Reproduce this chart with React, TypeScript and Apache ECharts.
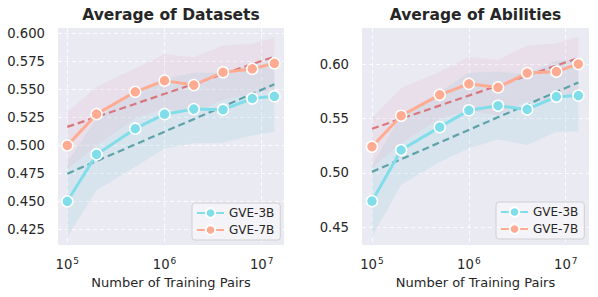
import React, { useEffect, useRef } from "react";
import * as echarts from "echarts";

const trainingPairs = [1e5, 2e5, 5e5, 1e6, 2e6, 4e6, 8e6, 1.35e7];
const trendPairs = [1e5, 1.35e7];

// Average of Datasets
const dsGVE3B = [0.45, 0.492, 0.515, 0.528, 0.5325, 0.532, 0.542, 0.544];
const dsGVE7B = [0.5, 0.528, 0.548, 0.558, 0.554, 0.5655, 0.5685, 0.5735];
const dsGVE3BLow = [0.418, 0.46, 0.481, 0.497, 0.502, 0.5025, 0.509, 0.512];
const dsGVE3BHigh = [0.485, 0.524, 0.549, 0.56, 0.565, 0.565, 0.572, 0.575];
const dsGVE7BLow = [0.479, 0.5, 0.524, 0.533, 0.529, 0.541, 0.546, 0.55];
const dsGVE7BHigh = [0.53, 0.5525, 0.569, 0.5815, 0.579, 0.5895, 0.591, 0.5965];
const dsTrend3B = [0.4747, 0.5547];
const dsTrend7B = [0.5166, 0.5795];

// Average of Abilities
const abGVE3B = [0.474, 0.521, 0.542, 0.5575, 0.5617, 0.5583, 0.57, 0.571];
const abGVE7B = [0.524, 0.5525, 0.5717, 0.5818, 0.5785, 0.5917, 0.593, 0.6];
const abGVE3BLow = [0.441, 0.489, 0.51, 0.5225, 0.5307, 0.5255, 0.5377, 0.538];
const abGVE3BHigh = [0.507, 0.553, 0.574, 0.592, 0.593, 0.591, 0.603, 0.604];
const abGVE7BLow = [0.505, 0.527, 0.55, 0.557, 0.553, 0.566, 0.566, 0.575];
const abGVE7BHigh = [0.5505, 0.578, 0.593, 0.6065, 0.604, 0.617, 0.619, 0.625];
const abTrend3B = [0.5009, 0.5831];
const abTrend7B = [0.5405, 0.6055];

const xTickExponents = [5, 6, 7];
const dsYTicks = [0.425, 0.45, 0.475, 0.5, 0.525, 0.55, 0.575, 0.6];
const abYTicks = [0.45, 0.5, 0.55, 0.6];

const titles = ["Average of Datasets", "Average of Abilities"];
const xName = "Number of Training Pairs";
const seriesNames = ["GVE-3B", "GVE-7B"];

const FONT = "DejaVu Sans";
const C3 = "#80DEEA";
const C7 = "#FFAB91";
const T3 = "#5DA3A9";
const T7 = "#D9777D";
const B3 = "#A8D4E4";
const B7 = "#E6A9C0";

const lx = trainingPairs.map((v) => Math.log10(v));
const ltx = trendPairs.map((v) => Math.log10(v));
const zip = (xs: number[], ys: number[]) => xs.map((x, i) => [x, ys[i]]);

function buildSeries(
  gi: number,
  m3: number[],
  m7: number[],
  lo3: number[],
  hi3: number[],
  lo7: number[],
  hi7: number[],
  t3: number[],
  t7: number[]
) {
  const base = { xAxisIndex: gi, yAxisIndex: gi, silent: true };
  const band = (name: string, lo: number[], hi: number[], color: string, op: number, z: number) => ({
    ...base,
    type: "custom",
    name,
    data: lx.map((x, i) => [x, lo[i], hi[i]]),
    encode: { x: 0, y: [1, 2] },
    z,
    renderItem: (params: any, api: any) => {
      if (params.dataIndex !== 0) return null;
      const top = lx.map((x, i) => api.coord([x, hi[i]]));
      const bottom = lx.map((x, i) => api.coord([x, lo[i]])).reverse();
      return {
        type: "polygon",
        shape: { points: [...top, ...bottom] },
        style: { fill: color, opacity: op },
      };
    },
  });
  const trend = (name: string, ys: number[], color: string) => ({
    ...base,
    type: "line",
    name,
    data: zip(ltx, ys),
    symbol: "none",
    lineStyle: { color, width: 2.2, type: [7, 4] },
    z: 3,
  });
  const main = (name: string, ys: number[], color: string) => ({
    ...base,
    type: "line",
    name,
    data: zip(lx, ys),
    symbol: "circle",
    symbolSize: 11,
    lineStyle: { color, width: 3 },
    itemStyle: { color, borderColor: "#ffffff", borderWidth: 1.5 },
    z: 5,
  });
  return [
    band("b3", lo3, hi3, B3, 0.28, 1),
    band("b7", lo7, hi7, B7, 0.16, 2),
    trend("t3", t3, T3),
    trend("t7", t7, T7),
    main(seriesNames[0], m3, C3),
    main(seriesNames[1], m7, C7),
  ];
}

export default function App() {
  const ref = useRef<HTMLDivElement>(null);
  useEffect(() => {
    if (!ref.current) return;
    const chart = echarts.init(ref.current, null, { renderer: "svg" });
    const grids = [
      { left: 58, top: 28, width: 226, height: 217 },
      { left: 362, top: 28, width: 227, height: 217 },
    ];
    const xRanges = [
      [4.9043, 7.2294],
      [4.897, 7.24],
    ];
    const yRanges = [
      [0.4109, 0.6051],
      [0.4337, 0.6331],
    ];
    const yTicks = [dsYTicks, abYTicks];
    const yFmt = [(v: number) => v.toFixed(3), (v: number) => v.toFixed(2)];
    const splitLine = {
      show: true,
      lineStyle: { color: "rgba(255,255,255,0.85)", width: 1, type: [4, 3] },
    };
    const option: any = {
      animation: false,
      graphic: titles.map((t, i) => ({
        type: "text",
        x: grids[i].left + grids[i].width / 2,
        y: 15,
        style: {
          text: t,
          fontSize: 15.5,
          fontWeight: "bold",
          fontFamily: FONT,
          fill: "#262626",
          align: "center",
          verticalAlign: "middle",
        },
      })),
      grid: grids.map((g) => ({
        ...g,
        show: true,
        backgroundColor: "#EAEAF2",
        borderWidth: 0,
        containLabel: false,
      })),
      xAxis: [0, 1].map((i) => ({
        type: "value",
        gridIndex: i,
        min: xRanges[i][0],
        max: xRanges[i][1],
        name: xName,
        nameLocation: "middle",
        nameGap: 29,
        nameTextStyle: { fontSize: 13, fontFamily: FONT, color: "#262626" },
        axisLine: { show: false },
        axisTick: { show: false, customValues: xTickExponents },
        splitLine,
        axisLabel: {
          customValues: xTickExponents,
          margin: 11,
          formatter: (v: number) => `{b|10}{s|${Math.round(v)}}`,
          rich: {
            b: { fontSize: 13.2, fontFamily: FONT, color: "#262626", lineHeight: 15, verticalAlign: "bottom" },
            s: { fontSize: 9, fontFamily: FONT, color: "#262626", lineHeight: 15, verticalAlign: "top", padding: [0, 0, 0, 1] },
          },
        },
      })),
      yAxis: [0, 1].map((i) => ({
        type: "value",
        gridIndex: i,
        min: yRanges[i][0],
        max: yRanges[i][1],
        axisLine: { show: false },
        axisTick: { show: false, customValues: yTicks[i] },
        splitLine,
        axisLabel: {
          customValues: yTicks[i],
          margin: 13,
          fontSize: 13.2,
          fontFamily: FONT,
          color: "#262626",
          formatter: yFmt[i],
        },
      })),
      legend: [
        { left: 192, top: 203 },
        { left: 496, top: 202 },
      ].map((p) => ({
        ...p,
        orient: "vertical",
        data: seriesNames,
        itemWidth: 27,
        itemHeight: 12,
        itemGap: 5,
        padding: [4, 6, 4, 4],
        backgroundColor: "rgba(255,255,255,0.45)",
        borderColor: "#cfcfd4",
        borderWidth: 1,
        borderRadius: 3,
        selectedMode: false,
        textStyle: { fontSize: 12, fontFamily: FONT, color: "#262626" },
      })),
      series: [
        ...buildSeries(0, dsGVE3B, dsGVE7B, dsGVE3BLow, dsGVE3BHigh, dsGVE7BLow, dsGVE7BHigh, dsTrend3B, dsTrend7B),
        ...buildSeries(1, abGVE3B, abGVE7B, abGVE3BLow, abGVE3BHigh, abGVE7BLow, abGVE7BHigh, abTrend3B, abTrend7B),
      ],
    };
    chart.setOption(option);
    return () => chart.dispose();
  }, []);
  return (
    <div
      ref={ref}
      style={{ position: "fixed", left: 0, top: 0, width: 598, height: 297, background: "#ffffff" }}
    />
  );
}
